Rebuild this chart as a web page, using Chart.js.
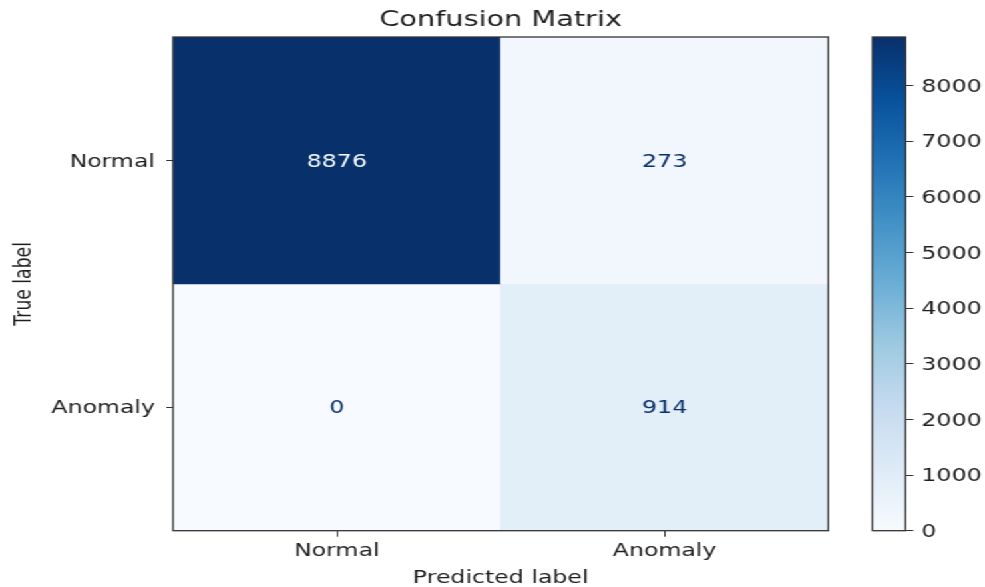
<!DOCTYPE html>
<html>
<head>
<meta charset="utf-8">
<title>Confusion Matrix</title>
<script src="https://cdn.jsdelivr.net/npm/chart.js@4.4.1/dist/chart.umd.min.js"></script>
<style>
  html, body { margin: 0; padding: 0; background: #ffffff; overflow: hidden; }
  #stage {
    position: absolute; left: 0; top: 0;
    width: 740px; height: 587px;
    transform-origin: 0 0;
    transform: scaleX(1.3311);
  }
  #stage canvas { position: absolute; top: 0; }
  #matrix { left: 0; }
  #colorbar { left: 640px; }
</style>
</head>
<body>
<div id="stage">
  <canvas id="matrix" width="640" height="587"></canvas>
  <canvas id="colorbar" width="100" height="587"></canvas>
</div>
<script>
// Class names for the true (rows) and predicted (columns) labels
const rowLabels = ['Normal', 'Anomaly'];
const colLabels = ['Normal', 'Anomaly'];

// Counts per true label, one entry per predicted label
const normalRow = [8876, 273];
const anomalyRow = [0, 914];
const matrixRows = [normalRow, anomalyRow];

// Colour bar tick values
const colorbarTicks = [0, 1000, 2000, 3000, 4000, 5000, 6000, 7000, 8000];

const FONT = 'DejaVu Sans';
const TEXT = '#1e1e1e';
const FRAME = '#333333';
const SIZE = 17.8;

// Matplotlib "Blues" colormap anchors
const BLUES = [
  [247, 251, 255], [222, 235, 247], [198, 219, 239], [158, 202, 225],
  [107, 174, 214], [66, 146, 198], [33, 113, 181], [8, 81, 156], [8, 48, 107]
];
function blues(t) {
  t = Math.min(1, Math.max(0, t));
  const p = t * (BLUES.length - 1);
  const i = Math.min(BLUES.length - 2, Math.floor(p));
  const f = p - i;
  const c = BLUES[i].map((v, k) => Math.round(v + (BLUES[i + 1][k] - v) * f));
  return `rgb(${c[0]},${c[1]},${c[2]})`;
}

const allValues = matrixRows.flat();
const zMin = 0;
const zMax = Math.max(...allValues);
const threshold = (zMax + zMin) / 2;

// Frame around the plotting area
const framePlugin = {
  id: 'frame',
  afterDraw(chart) {
    const { ctx, chartArea: a } = chart;
    ctx.save();
    ctx.strokeStyle = FRAME;
    ctx.lineWidth = 1.3;
    ctx.strokeRect(a.left, a.top, a.right - a.left, a.bottom - a.top);
    ctx.restore();
  }
};

// Count written in the middle of each cell
const cellTextPlugin = {
  id: 'cellText',
  afterDatasetsDraw(chart) {
    const { ctx } = chart;
    ctx.save();
    ctx.font = `${SIZE}px "${FONT}"`;
    ctx.textAlign = 'center';
    ctx.textBaseline = 'middle';
    chart.data.datasets.forEach((ds, i) => {
      chart.getDatasetMeta(i).data.forEach((bar, j) => {
        const v = ds.counts[j];
        const c = bar.getCenterPoint();
        ctx.fillStyle = v < threshold ? blues(1) : blues(0);
        ctx.fillText(String(v), c.x, c.y + 1.5);
      });
    });
    ctx.restore();
  }
};

// One dataset per true label; each cell is a floating bar spanning its row
const matrixDatasets = matrixRows.map((row, r) => ({
  label: rowLabels[r],
  counts: row,
  data: colLabels.map(() => [r - 0.5, r + 0.5]),
  backgroundColor: row.map(v => blues((v - zMin) / (zMax - zMin))),
  borderWidth: 0,
  barPercentage: 1,
  categoryPercentage: 1,
  grouped: false
}));

new Chart(document.getElementById('matrix'), {
  type: 'bar',
  data: { labels: colLabels, datasets: matrixDatasets },
  options: {
    responsive: false,
    animation: false,
    layout: { padding: { left: 0, right: 17.7, top: 0, bottom: 0 } },
    plugins: {
      legend: { display: false },
      tooltip: { enabled: false },
      title: {
        display: true,
        text: 'Confusion Matrix',
        fullSize: false,
        color: TEXT,
        font: { family: FONT, size: 21.6, weight: 'normal' },
        padding: { top: 7.5, bottom: 3.6 }
      }
    },
    scales: {
      x: {
        type: 'category',
        offset: true,
        grid: { offset: false, drawOnChartArea: false, drawTicks: true, tickLength: 6, color: FRAME },
        border: { display: false },
        ticks: { color: TEXT, padding: 4, font: { family: FONT, size: SIZE }, maxRotation: 0 },
        title: {
          display: true, text: 'Predicted label', color: TEXT,
          font: { family: FONT, size: SIZE }, padding: { top: 0, bottom: -2.5 }
        },
        afterFit(s) { s.height = 56.3; }
      },
      y: {
        type: 'linear',
        min: -0.5,
        max: 1.5,
        reverse: true,
        afterBuildTicks(s) { s.ticks = rowLabels.map((_, i) => ({ value: i })); },
        grid: { drawOnChartArea: false, drawTicks: true, tickLength: 5, color: FRAME },
        border: { display: false },
        ticks: {
          color: TEXT, padding: 8.5, labelOffset: 1.5, font: { family: FONT, size: SIZE },
          callback: v => rowLabels[v]
        },
        title: {
          display: true, text: 'True label', color: TEXT,
          font: { family: FONT, size: 17.2 }, padding: { top: 8, bottom: 0 }
        },
        afterFit(s) { s.width = 130; }
      }
    }
  },
  plugins: [cellTextPlugin, framePlugin]
});

// Colour bar: a single bar from zMin to zMax filled with the colormap
new Chart(document.getElementById('colorbar'), {
  type: 'bar',
  data: {
    labels: [''],
    datasets: [{
      data: [zMax],
      borderWidth: 0,
      barPercentage: 1,
      categoryPercentage: 1,
      backgroundColor(ctx) {
        const chart = ctx.chart;
        const y = chart.scales.y;
        if (!chart.chartArea || !y) return blues(0.5);
        const g = chart.ctx.createLinearGradient(0, y.getPixelForValue(zMin), 0, y.getPixelForValue(zMax));
        BLUES.forEach((_, i) => g.addColorStop(i / (BLUES.length - 1), blues(i / (BLUES.length - 1))));
        return g;
      }
    }]
  },
  options: {
    responsive: false,
    animation: false,
    layout: { padding: { left: 15.4, right: 0, top: 37, bottom: 56.3 } },
    plugins: { legend: { display: false }, tooltip: { enabled: false }, title: { display: false } },
    scales: {
      x: { display: false, offset: true },
      y: {
        position: 'right',
        min: zMin,
        max: zMax,
        afterBuildTicks(s) { s.ticks = colorbarTicks.map(v => ({ value: v })); },
        grid: { drawOnChartArea: false, drawTicks: true, tickLength: 6, color: FRAME },
        border: { display: false },
        ticks: { color: TEXT, padding: 6, labelOffset: 1.5, font: { family: FONT, size: SIZE }, callback: v => String(v) },
        afterFit(s) { s.width = 59.7; }
      }
    }
  },
  plugins: [framePlugin]
});
</script>
</body>
</html>
